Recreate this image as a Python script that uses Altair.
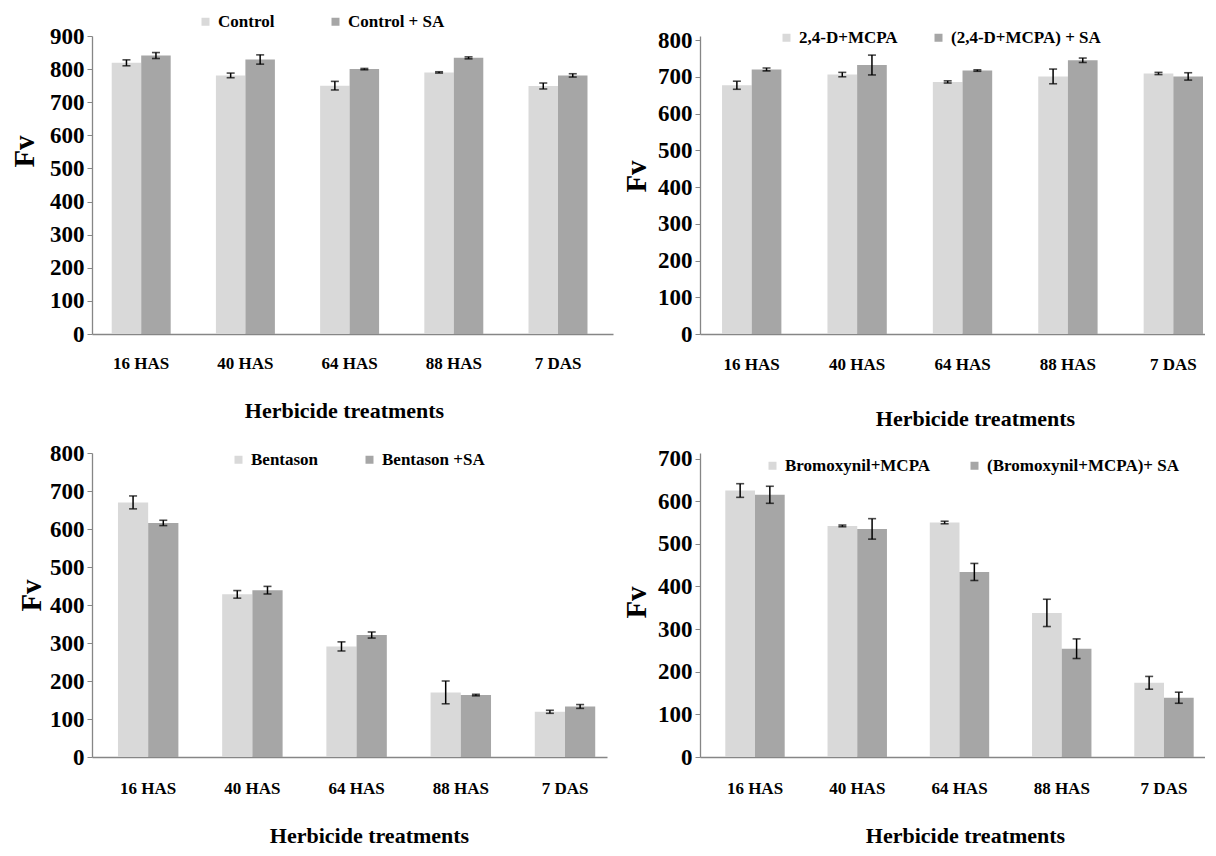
import altair as alt
import pandas as pd

FONT = "Liberation Serif"

times = ["16 HAS", "40 HAS", "64 HAS", "88 HAS", "7 DAS"]

p1_names = ["Control", "Control + SA"]
p1_a = [819, 781, 750, 790, 749]
p1_a_err = [9, 7, 13, 2, 9]
p1_b = [841, 829, 800, 834, 781]
p1_b_err = [9, 14, 2, 3, 5]
p1_ticks = [0, 100, 200, 300, 400, 500, 600, 700, 800, 900]

p2_names = ["2,4-D+MCPA", "(2,4-D+MCPA)  + SA"]
p2_a = [677, 706, 686, 701, 709]
p2_a_err = [11, 6, 3, 20, 3]
p2_b = [720, 732, 717, 745, 701]
p2_b_err = [4, 27, 2, 6, 10]
p2_ticks = [0, 100, 200, 300, 400, 500, 600, 700, 800]

p3_names = ["Bentason", "Bentason +SA"]
p3_a = [670, 428, 291, 170, 119]
p3_a_err = [17, 10, 12, 30, 4]
p3_b = [616, 439, 321, 163, 133]
p3_b_err = [7, 10, 8, 2, 5]
p3_ticks = [0, 100, 200, 300, 400, 500, 600, 700, 800]

p4_names = ["Bromoxynil+MCPA", "(Bromoxynil+MCPA)+ SA"]
p4_a = [625, 542, 550, 338, 174]
p4_a_err = [16, 2, 3, 32, 15]
p4_b = [615, 535, 434, 254, 139]
p4_b_err = [20, 24, 20, 23, 13]
p4_ticks = [0, 100, 200, 300, 400, 500, 600, 700]

colors = ["#d9d9d9", "#a6a6a6"]


def panel(names, a, a_err, b, b_err, ymax, yticks, width, height,
          pin, pout, align, lx, ly, cpad, ytx, yty, xtx, xty, xlp):
    rows = []
    for s, vals, errs in ((names[0], a, a_err), (names[1], b, b_err)):
        for t, v, e in zip(times, vals, errs):
            rows.append({"time": t, "series": s, "value": v,
                         "lo": v - e, "hi": v + e})
    df = pd.DataFrame(rows)

    xs = alt.Scale(domain=times, paddingInner=pin, paddingOuter=pout, align=align)
    xo = alt.Scale(domain=names, paddingInner=0, paddingOuter=0)
    ys = alt.Scale(domain=[0, ymax], nice=False, zero=True)

    xaxis = alt.Axis(title="Herbicide treatments", labelAngle=0, ticks=False,
                     tickSize=0, labelPadding=xlp, labelBaseline="middle",
                     labelFont=FONT, labelFontWeight="bold", labelColor="black",
                     labelFontSize=17, titleFont=FONT, titleFontWeight="bold",
                     titleColor="black", titleFontSize=22, titleX=xtx, titleY=xty,
                     titleBaseline="middle", titleAlign="center",
                     domainColor="#868686", domainWidth=1.3, grid=False)
    yaxis = alt.Axis(title="Fv", values=yticks, tickSize=5, labelPadding=3,
                     labelFont=FONT, labelFontWeight="bold", labelColor="black",
                     labelFontSize=23, titleFont=FONT, titleFontWeight="bold",
                     titleColor="black", titleFontSize=29, titleAngle=270,
                     titleX=ytx, titleY=yty, titleBaseline="middle",
                     titleAlign="center", domainColor="#868686",
                     tickColor="#868686", domainWidth=1.3, grid=False)

    x = alt.X("time:N", scale=xs, axis=xaxis, sort=times)
    xoff = alt.XOffset("series:N", scale=xo, sort=names)

    bars = alt.Chart().mark_bar().encode(
        x=x, xOffset=xoff,
        y=alt.Y("value:Q", scale=ys, axis=yaxis),
        color=alt.Color("series:N", sort=names,
                        scale=alt.Scale(domain=names, range=colors),
                        legend=alt.Legend(title=None, orient="none",
                                          legendX=lx, legendY=ly,
                                          direction="horizontal",
                                          symbolType="square", symbolSize=64,
                                          symbolStrokeWidth=0,
                                          labelFont=FONT, labelFontWeight="bold",
                                          labelColor="black",
                                          labelFontSize=17, labelOffset=4,
                                          columnPadding=cpad, padding=0,
                                          labelLimit=400)),
    )
    rules = alt.Chart().mark_rule(color="black", strokeWidth=1.5).encode(
        x=x, xOffset=xoff,
        y=alt.Y("lo:Q", scale=ys, axis=yaxis), y2="hi:Q",
    )
    cap_lo = alt.Chart().mark_tick(color="black", thickness=1.6, size=8).encode(
        x=x, xOffset=xoff, y=alt.Y("lo:Q", scale=ys, axis=yaxis),
    )
    cap_hi = alt.Chart().mark_tick(color="black", thickness=1.6, size=8).encode(
        x=x, xOffset=xoff, y=alt.Y("hi:Q", scale=ys, axis=yaxis),
    )
    return alt.layer(bars, rules, cap_lo, cap_hi, data=df).properties(
        width=width, height=height,
        view=alt.ViewBackground(stroke="transparent", strokeWidth=0))


c1 = panel(p1_names, p1_a, p1_a_err, p1_b, p1_b_err, 900, p1_ticks, 521, 298,
           0.434, 0.217, 0.436, 105, -23, 52, -68, 115, 252, 76, 29)
c2 = panel(p2_names, p2_a, p2_a_err, p2_b, p2_b_err, 811, p2_ticks, 505, 298,
           0.437, 0.114, 0.917, 78, -7, 32, -64, 140, 275, 84, 30)
c3 = panel(p3_names, p3_a, p3_a_err, p3_b, p3_b_err, 800, p3_ticks, 515, 304,
           0.42, 0.181, 0.688, 138, -2, 42, -61, 142, 277, 78, 31)
c4 = panel(p4_names, p4_a, p4_a_err, p4_b, p4_b_err, 713, p4_ticks, 505, 304,
           0.419, 0.179, 0.691, 64, 4, 35, -64, 149, 265, 78, 31)

chart = alt.concat(c1, c2, c3, c4, columns=2,
                   spacing={"row": 119, "column": 87}, bounds="flush").resolve_scale(
    x="independent", y="independent", color="independent", xOffset="independent"
).resolve_legend(color="independent").properties(
    padding={"left": 2, "top": 5, "right": 0, "bottom": 0}
).configure(
    font=FONT,
    style={"cell": {"stroke": "transparent", "strokeWidth": 0}},
).configure_view(
    stroke="transparent", strokeWidth=0
).configure_axis(
    labelFont=FONT, titleFont=FONT, labelFontWeight="bold", titleFontWeight="bold",
    labelColor="black", titleColor="black", grid=False
).configure_legend(
    labelFont=FONT, labelFontWeight="bold", labelColor="black"
)

chart.save("out.html", embed_options={"renderer": "svg", "actions": False})
